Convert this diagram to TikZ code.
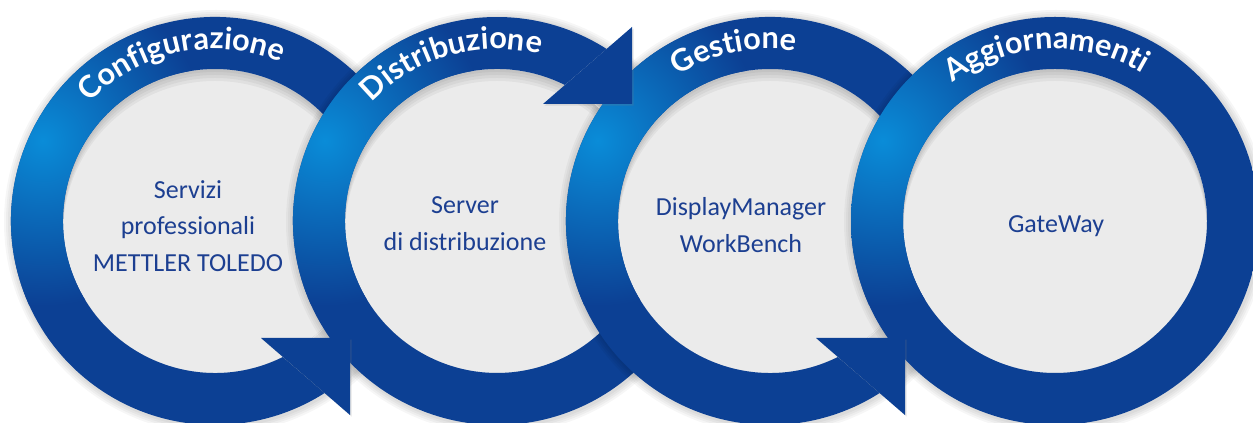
\documentclass[tikz,border=0pt]{standalone}
\usepackage{fontspec}
\usepackage{tikz}
\usetikzlibrary{calc,decorations.text,shadows}
\newfontfamily\bodyfont{Carlito}
\newfontfamily\ringfont{Lato}
\definecolor{navy}{HTML}{0C4094}
\definecolor{glow}{HTML}{0A8CD8}
\definecolor{coregray}{HTML}{EBEBEB}
\definecolor{ink}{HTML}{1C3F91}
\tikzset{
  core/.style={fill=coregray},
  halo/.style={fill=black, opacity=0.035},
  inset/.style={fill=black, opacity=0.045, even odd rule},
  head/.style={fill=navy, drop shadow={opacity=0.2, shadow xshift=1.2pt, shadow yshift=-1.2pt}},
  body/.style={text=ink, font=\bodyfont\fontsize{19.5}{27.5}\selectfont, align=center},
  ringlab/.style={decorate, decoration={text along path, text align=center, text color=white,
    text={|\ringfont\bfseries\fontsize{23}{23}\selectfont|#1}}},
}
% ring with a gap: centre, tail angle, outer end, inner end
\newcommand\ringpath[4]{($(#1)+(#2:204)$) arc[start angle=#2, end angle=#3, radius=204]
  -- ($(#1)+(#4:152)$) arc[start angle=#4, end angle=#2, radius=152] -- cycle}

\begin{document}
\begin{tikzpicture}[x=0.75pt,y=0.75pt]
  \useasboundingbox (0,0) rectangle (1253,423);
  \fill[white] (0,0) rectangle (1253,423);
  \clip (0,0) rectangle (1253,423);
  \coordinate (c1) at (215,202);
  \coordinate (c2) at (497,202);
  \coordinate (c3) at (770,202);
  \coordinate (c4) at (1055,202);

  \foreach \ctr/\angA/\angB/\angC in {c1/20/302.5/296.5, c2/-20/-302.5/-296.5, c3/20/302.5/296.5, c4/0/360/360}{
    \foreach \w in {2,4,6,8} \fill[halo] ($(\ctr)+(1,-1)$) circle ({204+\w});
    \fill[core] (\ctr) circle (153);
    \begin{scope}
      \clip (\ctr) circle (152);
      \foreach \d in {3,6,9,12} \fill[inset] (\ctr) circle (152) ($(\ctr)+(0,-\d)$) circle (152);
    \end{scope}
    \begin{scope}
      \clip \ringpath{\ctr}{\angA}{\angB}{\angC};
      \fill[navy] (\ctr) circle (210);
      \shade[inner color=glow, outer color=navy] ($(\ctr)+(155:190)$) circle (165);
    \end{scope}
  }

  \node[body] (srv) at (188,197) {Servizi\\professionali\\METTLER TOLEDO};
  \node[body] (dist) at (465,199) {Server\\di distribuzione};
  \node[body] (dm) at (741,198) {DisplayManager\\WorkBench};
  \node[body] (gw) at (1056,197) {GateWay};

  \path[ringlab=Configurazione] ($(c1)+(172:172)$) arc[start angle=172, end angle=32, radius=172];
  \path[ringlab=Distribuzione] ($(c2)+(176:172)$) arc[start angle=176, end angle=36, radius=172];
  \path[ringlab=Gestione] ($(c3)+(172:172)$) arc[start angle=172, end angle=32, radius=172];
  \path[ringlab=Aggiornamenti] ($(c4)+(163:172)$) arc[start angle=163, end angle=23, radius=172];

  % arrowheads lie over the next ring
  \foreach \ctr/\s in {c1/1, c2/-1, c3/1}
    \fill[head] ($(\ctr)+(46,{-117*\s})$) -- ($(\ctr)+(135,{-117*\s})$) -- ($(\ctr)+(135,{-194*\s})$) -- cycle;
\end{tikzpicture}
\end{document}
